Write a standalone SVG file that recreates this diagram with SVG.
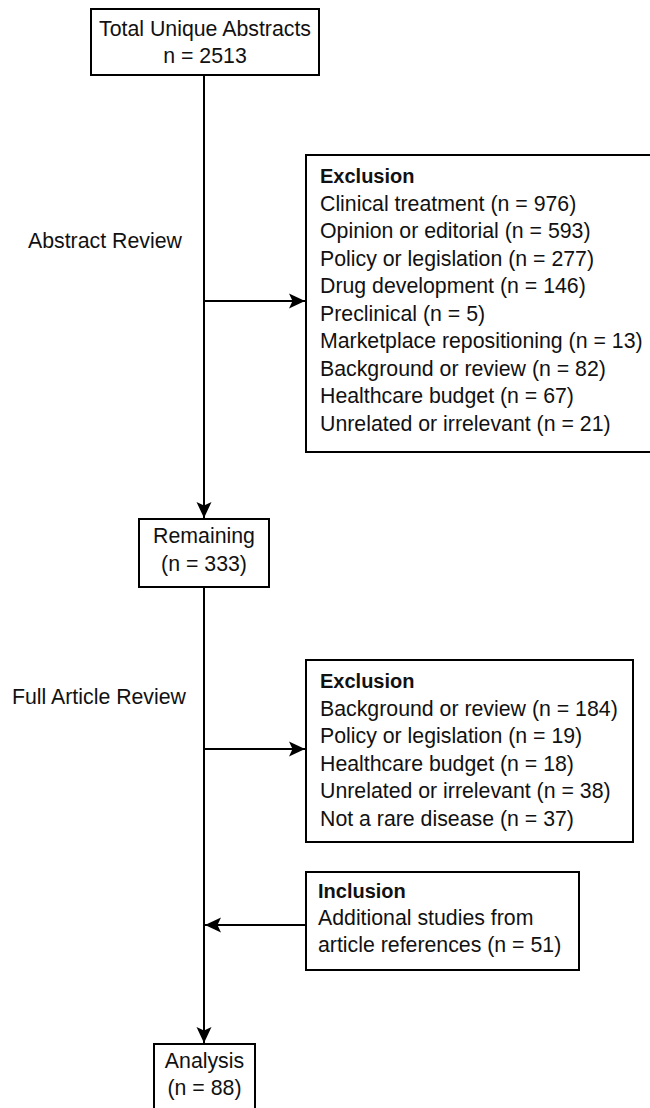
<svg xmlns="http://www.w3.org/2000/svg" width="650" height="1108" viewBox="0 0 650 1108">
<defs>
<marker id="arr" markerUnits="userSpaceOnUse" markerWidth="20" markerHeight="20" viewBox="-18 -10 20 20" refX="0" refY="0" orient="auto">
<path d="M0,0 L-16,-7.5 L-12.5,0 L-16,7.5 Z" fill="#000"/>
</marker>
<style>
.box{fill:#fff;stroke:#000;stroke-width:2}
.t{font-family:"Liberation Sans",Arial,sans-serif;font-size:21.3px;fill:#111}
.c{text-anchor:middle}
.b{font-weight:bold;font-size:20px}
.ln{stroke:#000;stroke-width:2;fill:none}
</style>
</defs>
<rect width="650" height="1108" fill="#fff"/>
<g id="connectors">
<line class="ln" x1="204" y1="75" x2="204" y2="518" marker-end="url(#arr)"/>
<line class="ln" x1="204" y1="301" x2="305" y2="301" marker-end="url(#arr)"/>
<line class="ln" x1="204" y1="587" x2="204" y2="1043" marker-end="url(#arr)"/>
<line class="ln" x1="204" y1="749" x2="305" y2="749" marker-end="url(#arr)"/>
<line class="ln" x1="306" y1="925" x2="205" y2="925" marker-end="url(#arr)"/>
</g>
<g id="label-abstract"><text class="t" x="28" y="248">Abstract Review</text></g>
<g id="label-full"><text class="t" x="12" y="704">Full Article Review</text></g>
<g id="total">
<rect class="box" x="91" y="9" width="228" height="66"/>
<text class="t c" x="205" y="36">Total Unique Abstracts</text>
<text class="t c" x="205" y="63">n = 2513</text>
</g>
<g id="exclusion1">
<rect class="box" x="306" y="155" width="352" height="297"/>
<text class="t b" x="320" y="183">Exclusion</text>
<text class="t" x="320" y="210.5">Clinical treatment (n = 976)</text>
<text class="t" x="320" y="238">Opinion or editorial (n = 593)</text>
<text class="t" x="320" y="265.5">Policy or legislation (n = 277)</text>
<text class="t" x="320" y="293">Drug development (n = 146)</text>
<text class="t" x="320" y="320.5">Preclinical (n = 5)</text>
<text class="t" x="320" y="348">Marketplace repositioning (n = 13)</text>
<text class="t" x="320" y="375.5">Background or review (n = 82)</text>
<text class="t" x="320" y="403">Healthcare budget (n = 67)</text>
<text class="t" x="320" y="430.5">Unrelated or irrelevant (n = 21)</text>
</g>
<g id="remaining">
<rect class="box" x="139" y="519" width="130" height="68"/>
<text class="t c" x="204" y="543">Remaining</text>
<text class="t c" x="204" y="571">(n = 333)</text>
</g>
<g id="exclusion2">
<rect class="box" x="306" y="660" width="327" height="182"/>
<text class="t b" x="320" y="688">Exclusion</text>
<text class="t" x="320" y="715.5">Background or review (n = 184)</text>
<text class="t" x="320" y="743">Policy or legislation (n = 19)</text>
<text class="t" x="320" y="770.5">Healthcare budget (n = 18)</text>
<text class="t" x="320" y="798">Unrelated or irrelevant (n = 38)</text>
<text class="t" x="320" y="825.5">Not a rare disease (n = 37)</text>
</g>
<g id="inclusion">
<rect class="box" x="306" y="872" width="273" height="98"/>
<text class="t b" x="318" y="898">Inclusion</text>
<text class="t" x="318" y="925">Additional studies from</text>
<text class="t" x="318" y="952">article references (n = 51)</text>
</g>
<g id="analysis">
<rect class="box" x="154" y="1044" width="101" height="80"/>
<text class="t c" x="204.5" y="1068">Analysis</text>
<text class="t c" x="204.5" y="1095">(n = 88)</text>
</g>
</svg>
